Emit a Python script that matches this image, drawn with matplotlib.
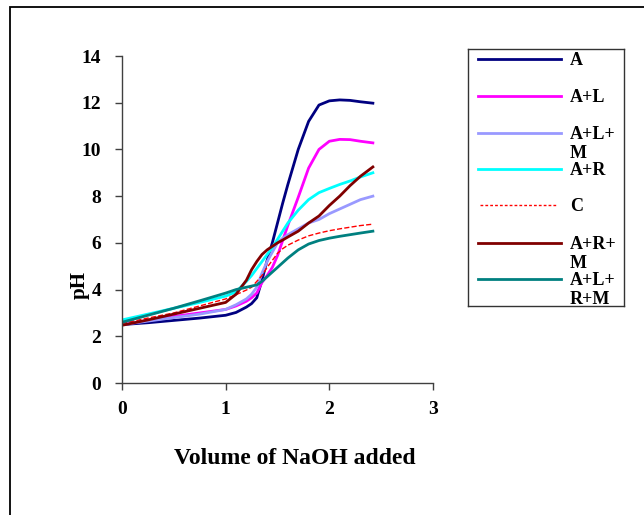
import matplotlib
matplotlib.use("Agg")
import matplotlib.pyplot as plt
from matplotlib.patches import Rectangle

# volume of NaOH added (x) and pH readings for each mixture
volume = [0, 0.25, 0.5, 0.75, 1.0, 1.1, 1.2, 1.25, 1.3, 1.35, 1.4, 1.45, 1.5,
          1.55, 1.6, 1.7, 1.8, 1.9, 2.0, 2.1, 2.2, 2.3, 2.42]

ph_a = [2.5, 2.58, 2.68, 2.78, 2.9, 3.02, 3.25, 3.4, 3.65, 4.4, 5.25, 6.0, 6.85,
        7.7, 8.5, 10.0, 11.2, 11.9, 12.08, 12.12, 12.1, 12.04, 11.98]
ph_al = [2.5, 2.68, 2.85, 3.0, 3.15, 3.3, 3.5, 3.65, 3.85, 4.3, 4.6, 4.95, 5.45,
         6.1, 6.75, 7.95, 9.2, 10.0, 10.35, 10.43, 10.42, 10.35, 10.28]
ph_alm = [2.5, 2.65, 2.8, 2.95, 3.15, 3.35, 3.6, 3.8, 4.1, 4.7, 5.2, 5.6, 6.0,
          6.2, 6.35, 6.6, 6.85, 7.0, 7.25, 7.45, 7.65, 7.85, 8.0]
ph_ar = [2.7, 2.95, 3.2, 3.45, 3.72, 3.9, 4.35, 4.6, 4.9, 5.2, 5.5, 5.8, 6.15,
         6.5, 6.85, 7.4, 7.85, 8.15, 8.33, 8.5, 8.65, 8.82, 9.0]
ph_c = [2.55, 2.78, 3.0, 3.3, 3.6, 3.78, 3.98, 4.1, 4.35, 4.6, 4.95, 5.25, 5.55,
        5.75, 5.9, 6.12, 6.3, 6.42, 6.52, 6.6, 6.67, 6.74, 6.8]
ph_arm = [2.47, 2.7, 2.95, 3.2, 3.45, 3.8, 4.4, 4.85, 5.2, 5.5, 5.7, 5.85, 6.0,
          6.12, 6.25, 6.5, 6.85, 7.15, 7.6, 8.0, 8.45, 8.85, 9.25]
ph_alrm = [2.6, 2.9, 3.2, 3.52, 3.85, 4.0, 4.1, 4.15, 4.2, 4.35, 4.55, 4.75, 4.95,
           5.15, 5.35, 5.7, 5.95, 6.1, 6.2, 6.28, 6.35, 6.42, 6.5]

labels = ["A", "A+L", "A+L+\nM", "A+R", "C", "A+R+\nM", "A+L+\nR+M"]
series = [ph_a, ph_al, ph_alm, ph_ar, ph_c, ph_arm, ph_alrm]
colors = ["#000080", "#FF00FF", "#9999FF", "#00FFFF", "#FF0000", "#800000", "#008080"]
styles = ["-", "-", "-", "-", "--", "-", "-"]
widths = [2.0, 2.0, 2.0, 2.0, 1.0, 2.0, 2.0]

plt.rcParams["font.family"] = ["Liberation Serif", "DejaVu Serif"]
plt.rcParams["font.weight"] = "bold"

W, H = 644, 515
fig = plt.figure(figsize=(W / 100, H / 100), dpi=100)

# outer frame of the picture (runs off the right and bottom edges)
fig.patches.append(Rectangle((10 / W, -0.1), 1.2, 1 - 7 / H + 0.1,
                             transform=fig.transFigure, fill=False,
                             edgecolor="black", linewidth=1.3, clip_on=False))

ax = fig.add_axes([122 / W, 1 - 383 / H, 311 / W, 327 / H])
for y, c, ls, lw in zip(series, colors, styles, widths):
    ax.plot(volume, y, color=c, linestyle=ls, linewidth=lw)

ax.set_xlim(0, 3)
ax.set_ylim(0, 14)
ax.set_xticks([0, 1, 2, 3])
ax.set_yticks(range(0, 15, 2))
for s in ["top", "right"]:
    ax.spines[s].set_visible(False)
for s in ["left", "bottom"]:
    ax.spines[s].set_color("#404040")
    ax.spines[s].set_linewidth(1.0)
ax.tick_params(axis="both", direction="out", length=5, width=1.0, color="#404040",
               labelsize=14)
ax.tick_params(axis="y", pad=10)
ax.tick_params(axis="x", pad=8)
for t in ax.get_xticklabels() + ax.get_yticklabels():
    t.set_fontweight("bold")

ax.set_xlabel("Volume of NaOH added", fontsize=17, fontweight="bold")
ax.xaxis.set_label_coords(0.556, -0.20)
ax.set_ylabel("pH", fontsize=15, fontweight="bold")
ax.yaxis.set_label_coords(-0.105, 0.30)

# legend drawn as a separate boxed panel
lx0, ly0, lx1, ly1 = 468, 49, 624, 306
lax = fig.add_axes([lx0 / W, 1 - ly1 / H, (lx1 - lx0) / W, (ly1 - ly0) / H])
lax.set_xlim(lx0, lx1)
lax.set_ylim(ly1, ly0)
lax.set_xticks([])
lax.set_yticks([])
for s in lax.spines.values():
    s.set_linewidth(1.0)
    s.set_color("#333333")
entry_y = [59, 96, 133, 169, 205, 243, 279]
for yy, lab, c, ls, lw in zip(entry_y, labels, colors, styles, widths):
    if ls == "--":
        lax.plot([480, 557], [yy, yy], color=c, linestyle=(0, (2, 1.5)), linewidth=1.0)
    else:
        lax.plot([478, 561], [yy, yy], color=c, linestyle=ls, linewidth=lw)
    lax.text(570, yy - 7, lab, fontsize=13, fontweight="bold", va="top", ha="left",
             linespacing=1.15)

fig.savefig("out.png", dpi=100)
